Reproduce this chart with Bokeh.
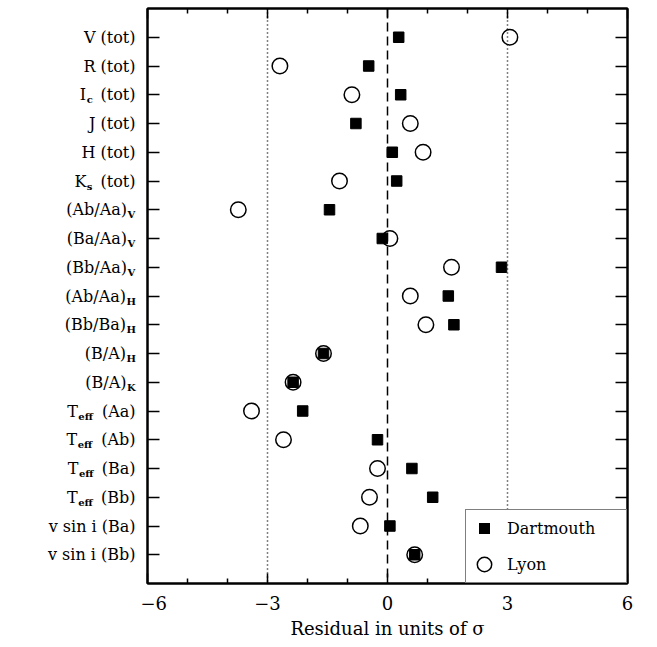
from bokeh.plotting import figure
from bokeh.layouts import row
from bokeh.models import (ColumnDataSource, Span, FixedTicker, LinearAxis,
                          Range1d, Legend, LegendItem, CustomJSTickFormatter)
from bokeh.core.properties import value
from bokeh.embed import file_html
from bokeh.resources import INLINE

# ---------------- data ----------------
# label pieces: prefix, subscript, suffix (rows top to bottom)
label_prefix = ["V (tot)", "R (tot)", "I", "J (tot)", "H (tot)", "K",
                "(Ab/Aa)", "(Ba/Aa)", "(Bb/Aa)", "(Ab/Aa)", "(Bb/Ba)",
                "(B/A)", "(B/A)", "T", "T", "T", "T",
                "v sin i (Ba)", "v sin i (Bb)"]
label_sub = ["", "", "c", "", "", "s",
             "V", "V", "V", "H", "H",
             "H", "K", "eff", "eff", "eff", "eff",
             "", ""]
label_suffix = ["", "", "(tot)", "", "", "(tot)",
                "", "", "", "", "",
                "", "", "(Aa)", "(Ab)", "(Ba)", "(Bb)",
                "", ""]
dartmouth = [0.28, -0.47, 0.33, -0.79, 0.12, 0.23,
             -1.45, -0.13, 2.85, 1.52, 1.66,
             -1.60, -2.36, -2.12, -0.25, 0.61, 1.13,
             0.06, 0.68]
lyon = [3.06, -2.69, -0.89, 0.57, 0.89, -1.20,
        -3.73, 0.06, 1.60, 0.57, 0.96,
        -1.60, -2.36, -3.40, -2.60, -0.25, -0.45,
        -0.68, 0.68]
x_major_ticks = [-6, -3, 0, 3, 6]
x_minor_ticks = [-5, -4, -2, -1, 1, 2, 4, 5]
x_tick_labels = ["\u22126", "\u22123", "0", "3", "6"]
sigma_lines = [-3, 3]
x_label = "Residual in units of \u03c3"
series_names = ["Dartmouth", "Lyon"]

n = len(label_prefix)
ys = [n - i for i in range(n)]
XMIN, XMAX = -6, 6

# ---------------- styling helpers ----------------
FONT = "DejaVu Serif"
MAIN_PX = 16
SUB_PX = 10
W_MAIN = {'(': 0.390, ')': 0.390, 't': 0.401, 'o': 0.602, 'A': 0.722,
          'a': 0.596, 'b': 0.640, 'B': 0.686, ' ': 0.318}
W_SUB = {'e': 0.64, 'f': 0.46, 'c': 0.59, 's': 0.57, 'V': 0.80, 'H': 0.90, 'K': 0.85}


def wmain(s):
    return sum(W_MAIN.get(c, 0.6) for c in s) * MAIN_PX


def wsub(s):
    return sum(W_SUB.get(c, 0.6) for c in s) * SUB_PX


LABEL_W = 140          # width of the label panel
PLOT_W = 657 - LABEL_W
TOP, BOTTOM = 8, 64
GAP_FRAME = 7          # p's left border

# ---------------- main figure ----------------
p = figure(width=PLOT_W, height=647, x_range=Range1d(XMIN, XMAX), y_range=Range1d(0, n + 1),
           output_backend="svg", toolbar_location=None,
           min_border_left=GAP_FRAME, min_border_right=30, min_border_top=TOP,
           min_border_bottom=BOTTOM, x_axis_location=None, y_axis_location=None)
p.xgrid.visible = False
p.ygrid.visible = False
p.outline_line_color = "black"
p.outline_line_width = 2
p.background_fill_color = "white"
p.border_fill_color = "white"

xticker = FixedTicker(ticks=x_major_ticks, minor_ticks=x_minor_ticks)
yticker = FixedTicker(ticks=ys, minor_ticks=[])
blank = CustomJSTickFormatter(code="return ''")

bottom = LinearAxis(ticker=xticker, axis_label=x_label)
bottom.major_label_overrides = {t: l for t, l in zip(x_major_ticks, x_tick_labels)}
top = LinearAxis(ticker=xticker, formatter=blank)
left = LinearAxis(ticker=yticker, formatter=blank)
right = LinearAxis(ticker=yticker, formatter=blank)

for ax in (bottom, top, left, right):
    ax.axis_line_color = "black"
    ax.axis_line_width = 2
    ax.major_tick_line_color = "black"
    ax.minor_tick_line_color = "black"
    ax.major_tick_line_width = 1.5
    ax.minor_tick_line_width = 1.5
    ax.major_tick_out = 0
    ax.minor_tick_out = 0
for ax in (bottom, top):
    ax.major_tick_in = 10
    ax.minor_tick_in = 5
for ax in (left, right):
    ax.major_tick_in = 12
    ax.minor_tick_in = 0
for ax in (top, left, right):
    ax.major_label_standoff = 0

bottom.major_label_text_font = FONT
bottom.major_label_text_font_size = "18px"
bottom.major_label_text_color = "black"
bottom.major_label_standoff = 12
bottom.axis_label_text_font = FONT
bottom.axis_label_text_font_size = "18px"
bottom.axis_label_text_font_style = "normal"
bottom.axis_label_text_color = "black"
bottom.axis_label_standoff = 5

p.add_layout(bottom, "below")
p.add_layout(top, "above")
p.add_layout(left, "left")
p.add_layout(right, "right")

for loc in sigma_lines:
    p.add_layout(Span(location=loc, dimension="height", line_color="black",
                      line_width=1.5, line_dash="1 3"))
p.add_layout(Span(location=0, dimension="height", line_color="black",
                  line_width=1.5, line_dash="9 5"))

src = ColumnDataSource(data=dict(y=ys, dart=dartmouth, lyon=lyon))
sq = p.scatter(x="dart", y="y", source=src, marker="square", size=10.5,
               fill_color="black", line_color="black")
ci = p.scatter(x="lyon", y="y", source=src, marker="circle", size=15.5,
               fill_color=None, line_color="black", line_width=1.5)

# legend-only (hidden) renderers so legend markers get reference-like sizes
sq_leg = p.scatter(x="dart", y="y", source=src, marker="square",
                   fill_color="black", line_color="white", line_width=3.4, visible=False)
ci_leg = p.scatter(x="lyon", y="y", source=src, marker="circle",
                   fill_color=None, line_color="black", line_width=1.5, visible=False)

legend = Legend(items=[LegendItem(label=series_names[0], renderers=[sq_leg]),
                       LegendItem(label=series_names[1], renderers=[ci_leg])],
                location="bottom_right", margin=0, padding=0, spacing=0,
                glyph_width=36, glyph_height=36, label_height=36, label_width=119,
                label_standoff=5,
                border_line_color="black", border_line_width=1.5,
                background_fill_color="white", background_fill_alpha=1.0,
                label_text_font=FONT, label_text_font_size="16px",
                label_text_color="black")
p.add_layout(legend)

# ---------------- label panel (y labels with subscripts) ----------------
R_EDGE = -12 + GAP_FRAME
GAP = 8
m_y, m_t, m_o = [], [], []
s_y, s_t, s_o = [], [], []
for pre, sub, suf, y in zip(label_prefix, label_sub, label_suffix, ys):
    if not sub:
        m_y.append(y); m_t.append(pre); m_o.append(R_EDGE)
    elif not suf:
        pe = R_EDGE - wsub(sub) - 0.5
        m_y.append(y); m_t.append(pre); m_o.append(pe)
        s_y.append(y); s_t.append(sub); s_o.append(pe + 0.5)
    else:
        m_y.append(y); m_t.append(suf); m_o.append(R_EDGE)
        pe = R_EDGE - wmain(suf) - GAP - wsub(sub) - 0.5
        m_y.append(y); m_t.append(pre); m_o.append(pe)
        s_y.append(y); s_t.append(sub); s_o.append(pe + 0.5)

lf = figure(width=LABEL_W, height=647, x_range=Range1d(0, LABEL_W), y_range=p.y_range,
            output_backend="svg", toolbar_location=None,
            min_border_left=0, min_border_right=0, min_border_top=TOP, min_border_bottom=BOTTOM,
            x_axis_location=None, y_axis_location=None)
lf.xgrid.visible = False
lf.ygrid.visible = False
lf.outline_line_color = None
lf.background_fill_color = "white"
lf.border_fill_color = "white"

msrc = ColumnDataSource(data=dict(x=[LABEL_W] * len(m_y), y=m_y, text=m_t, off=m_o))
ssrc = ColumnDataSource(data=dict(x=[LABEL_W] * len(s_y), y=s_y, text=s_t, off=s_o))
lf.text(x="x", y="y", text="text", x_offset="off", source=msrc,
        text_align="right", text_baseline="middle", text_font=value(FONT),
        text_font_size=value(f"{MAIN_PX}px"), text_color="black")
lf.text(x="x", y="y", text="text", x_offset="off", y_offset=5, source=ssrc,
        text_align="left", text_baseline="middle", text_font=value(FONT),
        text_font_style="bold", text_font_size=value(f"{SUB_PX}px"), text_color="black")

layout = row(lf, p)
open("out.html", "w").write(file_html(layout, INLINE))
